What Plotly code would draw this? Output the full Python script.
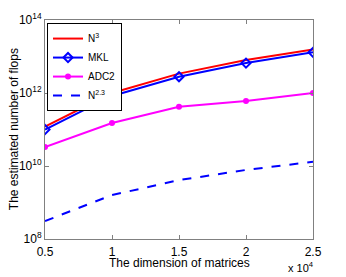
import plotly.graph_objects as go

x_dims = [5000, 10000, 15000, 20000, 25000]
n3 = [1.2e11, 1.0e12, 3.4e12, 8.0e12, 1.55e13]
mkl = [1.0e11, 8.3e11, 2.8e12, 6.6e12, 1.3e13]
adc2 = [3.3e10, 1.5e11, 4.2e11, 6.0e11, 1.0e12]
n23 = [3.1e8, 1.6e9, 4.1e9, 7.8e9, 1.3e10]

x_tickvals = [5000, 10000, 15000, 20000, 25000]
x_ticktext = ["0.5", "1", "1.5", "2", "2.5"]
y_tickvals = [1e8, 1e10, 1e12, 1e14]
y_ticktext = ["10<sup>8</sup>", "10<sup>10</sup>", "10<sup>12</sup>", "10<sup>14</sup>"]

FONT = "Liberation Sans, Arial, sans-serif"

fig = go.Figure()
fig.add_trace(go.Scatter(x=x_dims, y=n3, name="N<sup>3</sup>", mode="lines",
                         line=dict(color="#ff0000", width=2)))
fig.add_trace(go.Scatter(x=x_dims, y=mkl, name="MKL", mode="lines+markers",
                         line=dict(color="#0000ff", width=2),
                         marker=dict(symbol="diamond-open", size=7, color="#0000ff",
                                     line=dict(width=2, color="#0000ff"))))
fig.add_trace(go.Scatter(x=x_dims, y=adc2, name="ADC2", mode="lines+markers",
                         line=dict(color="#ff00ff", width=2),
                         marker=dict(symbol="circle", size=6, color="#ff00ff")))
fig.add_trace(go.Scatter(x=x_dims, y=n23, name="N<sup>2.3</sup>", mode="lines",
                         line=dict(color="#0000ff", width=2, dash="dash")))

axis_common = dict(showgrid=False, zeroline=False, showline=True, linecolor="#808080",
                   linewidth=1, mirror="ticks", ticks="inside", ticklen=4,
                   tickcolor="#808080", automargin=False,
                   tickfont=dict(size=12, color="#000000", family=FONT))

fig.update_xaxes(range=[5000, 25000], tickvals=x_tickvals, ticktext=x_ticktext,
                 ticklabelstandoff=2, **axis_common)
fig.update_yaxes(type="log", range=[8, 14], tickvals=y_tickvals, ticktext=y_ticktext,
                 **axis_common)

# axis titles and exponent note
fig.add_annotation(text="The dimension of matrices", xref="paper", yref="paper",
                   x=0.5, y=-0.11, xanchor="center", yanchor="middle", showarrow=False,
                   font=dict(size=12, color="#000000", family=FONT))
fig.add_annotation(text="The estimated number of flops", xref="paper", yref="paper",
                   x=-0.117, y=0.5, xanchor="center", yanchor="middle", showarrow=False,
                   textangle=-90, font=dict(size=12, color="#000000", family=FONT))
fig.add_annotation(text="x 10<sup>4</sup>", xref="paper", yref="paper", x=0.955, y=-0.13,
                   xanchor="center", yanchor="middle", showarrow=False,
                   font=dict(size=11, color="#000000", family=FONT))

fig.update_layout(
    width=338, height=269,
    margin=dict(l=37, r=33, t=12, b=38),
    paper_bgcolor="white", plot_bgcolor="white",
    font=dict(family=FONT, size=12, color="#000000"),
    showlegend=True,
    legend=dict(x=0.0075, y=0.986, xanchor="left", yanchor="top",
                bgcolor="white", bordercolor="#000000", borderwidth=1,
                font=dict(size=10, family=FONT), tracegroupgap=0,
                itemwidth=30),
)

fig.write_html("out.html")
